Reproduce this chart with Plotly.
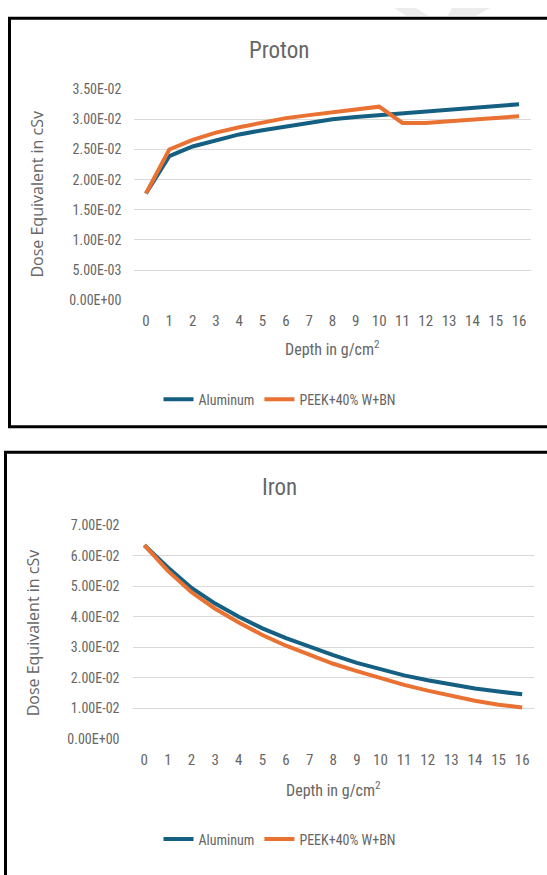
import plotly.graph_objects as go

# Depth categories (g/cm^2)
depth = list(range(17))

# Proton dose equivalent (cSv)
proton_aluminum = [0.0177, 0.0239, 0.0255, 0.0265, 0.0275, 0.0282, 0.0288, 0.0295,
                   0.0300, 0.0304, 0.0307, 0.0311, 0.0314, 0.0317, 0.0320, 0.0322, 0.0325]
proton_peek = [0.0177, 0.0250, 0.0266, 0.0278, 0.0287, 0.0295, 0.0302, 0.0307,
               0.0312, 0.0316, 0.0321, 0.0294, 0.0294, 0.0297, 0.0300, 0.0302, 0.0305]

# Iron dose equivalent (cSv)
iron_aluminum = [0.0634, 0.0561, 0.0494, 0.0443, 0.0400, 0.0362, 0.0330, 0.0301,
                 0.0274, 0.0249, 0.0228, 0.0208, 0.0192, 0.0178, 0.0165, 0.0155, 0.0146]
iron_peek = [0.0634, 0.0550, 0.0480, 0.0426, 0.0381, 0.0340, 0.0305, 0.0274,
             0.0246, 0.0222, 0.0199, 0.0177, 0.0158, 0.0140, 0.0125, 0.0112, 0.0103]

series_names = ["Aluminum", "PEEK+40% W+BN"]

proton_ticks = [0.0, 0.005, 0.010, 0.015, 0.020, 0.025, 0.030, 0.035]
proton_ticktext = ["0.00E+00", "5.00E-03", "1.00E-02", "1.50E-02",
                   "2.00E-02", "2.50E-02", "3.00E-02", "3.50E-02"]
iron_ticks = [0.0, 0.01, 0.02, 0.03, 0.04, 0.05, 0.06, 0.07]
iron_ticktext = ["0.00E+00", "1.00E-02", "2.00E-02", "3.00E-02",
                 "4.00E-02", "5.00E-02", "6.00E-02", "7.00E-02"]

W, H = 547, 875
BLUE = "#156082"
ORANGE = "#E97132"
GREY = "#666666"
GRID = "#d9d9d9"
NARROW = "Liberation Sans Narrow, Arial Narrow, Roboto Condensed, Liberation Sans, sans-serif"
WIDE = "Open Sans"


def px(x):
    return x / W


def py(y):
    return 1 - y / H


fig = go.Figure()

panels = [
    dict(name="Proton", al=proton_aluminum, pk=proton_peek, xa="x", ya="y",
         legend="legend", xdom=(134.3, 530.7), ydom=(82.7, 297.7),
         rng=[0, 0.035], tv=proton_ticks, tt=proton_ticktext,
         title_y=43, xtitle_y=347, ytitle=(37, 190), leg=(280, 399)),
    dict(name="Iron", al=iron_aluminum, pk=iron_peek, xa="x2", ya="y2",
         legend="legend2", xdom=(132.5, 534.0), ydom=(526.7, 744.5),
         rng=[0, 0.07], tv=iron_ticks, tt=iron_ticktext,
         title_y=488, xtitle_y=796, ytitle=(33, 637), leg=(280, 847)),
]

for p in panels:
    for vals, color, nm in ((p["al"], BLUE, series_names[0]), (p["pk"], ORANGE, series_names[1])):
        fig.add_trace(go.Scatter(
            x=depth, y=vals, mode="lines", name=nm,
            line=dict(color=color, width=4),
            xaxis=p["xa"], yaxis=p["ya"], legend=p["legend"],
        ))

layout = dict(
    width=W, height=H, autosize=False,
    margin=dict(l=0, r=0, t=0, b=0),
    paper_bgcolor="white", plot_bgcolor="white",
    font=dict(family=NARROW, color=GREY, size=14),
    annotations=[], shapes=[],
)

for i, p in enumerate(panels):
    sfx = "" if i == 0 else str(i + 1)
    layout["xaxis" + sfx] = dict(
        domain=[px(p["xdom"][0]), px(p["xdom"][1])],
        anchor="y" + sfx, range=[-0.5, 16.5],
        tickmode="array", tickvals=depth, ticktext=[str(d) for d in depth],
        showgrid=False, zeroline=False, showline=False, ticks="",
        ticklabelstandoff=10,
        tickfont=dict(family=NARROW, size=15, color=GREY),
    )
    layout["yaxis" + sfx] = dict(
        domain=[py(p["ydom"][1]), py(p["ydom"][0])],
        anchor="x" + sfx, range=p["rng"],
        tickmode="array", tickvals=p["tv"], ticktext=p["tt"],
        showgrid=True, gridcolor=GRID, gridwidth=1.3,
        zeroline=False, showline=False, ticks="",
        ticklabelstandoff=12,
        tickfont=dict(family=NARROW, size=14, color=GREY),
    )
    lx, ly = p["leg"]
    layout[p["legend"]] = dict(
        orientation="h", x=px(lx), xanchor="center", y=py(ly), yanchor="middle",
        font=dict(family=NARROW, size=14, color=GREY),
        bgcolor="rgba(0,0,0,0)", itemwidth=30, traceorder="normal",
    )
    cx = (p["xdom"][0] + p["xdom"][1]) / 2
    layout["annotations"] += [
        dict(text=p["name"], x=px(279), y=py(p["title_y"]), xref="paper", yref="paper",
             xanchor="center", yanchor="middle", showarrow=False,
             font=dict(family=NARROW, size=23, color=GREY)),
        dict(text="Depth in g/cm<sup>2</sup>", x=px(cx), y=py(p["xtitle_y"]),
             xref="paper", yref="paper", xanchor="center", yanchor="middle",
             showarrow=False, font=dict(family=NARROW, size=16, color=GREY)),
        dict(text="Dose Equivalent in cSv", x=px(p["ytitle"][0]), y=py(p["ytitle"][1]),
             xref="paper", yref="paper", xanchor="center", yanchor="middle",
             textangle=-90, showarrow=False,
             font=dict(family=WIDE, size=16, color=GREY)),
    ]

# Panel frames
layout["shapes"] += [
    dict(type="rect", xref="paper", yref="paper", x0=px(9.5), x1=px(560),
         y0=py(426.5), y1=py(10.5), line=dict(color="black", width=3)),
    dict(type="rect", xref="paper", yref="paper", x0=px(5.5), x1=px(560),
         y0=py(890), y1=py(452.5), line=dict(color="black", width=3)),
    # faint diagonal watermark strokes along the top edge
    dict(type="path", xref="paper", yref="paper", layer="below",
         path=f"M {px(394)},{py(0)} L {px(416)},{py(0)} L {px(428)},{py(8)} L {px(406)},{py(8)} Z",
         fillcolor="#ececec", line=dict(width=0)),
    dict(type="path", xref="paper", yref="paper", layer="below",
         path=f"M {px(452)},{py(0)} L {px(490)},{py(0)} L {px(476)},{py(8)} L {px(448)},{py(8)} Z",
         fillcolor="#ececec", line=dict(width=0)),
]

fig.update_layout(**layout)
fig.write_html("out.html")
